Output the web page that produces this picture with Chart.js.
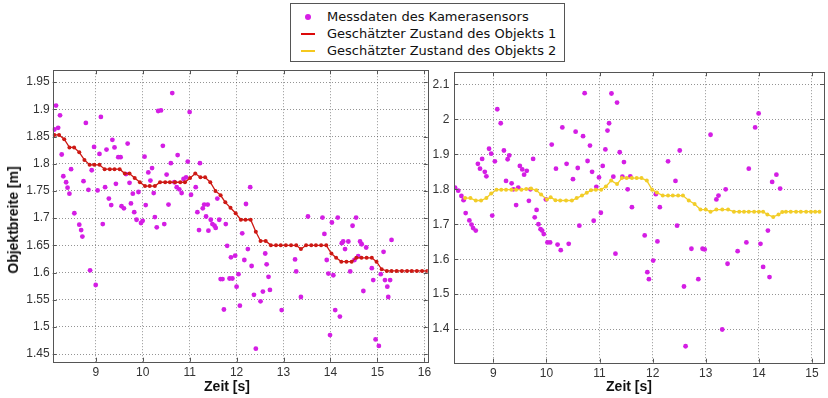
<!DOCTYPE html>
<html>
<head>
<meta charset="utf-8">
<script src="https://cdn.jsdelivr.net/npm/chart.js"></script>
<style>
  body { margin: 0; background: #fff; width: 828px; height: 398px; position: relative; overflow: hidden; font-family: "Liberation Sans", Arial, sans-serif; }
  canvas { position: absolute; top: 60px; }
  #links { left: 0; }
  #rechts { left: 430px; }
  .titel { position: absolute; font-weight: bold; font-size: 14px; color: #111; white-space: nowrap; transform: translate(-50%, -50%); }
  #legende { position: absolute; left: 290px; top: 3px; width: 275px; height: 59px; box-sizing: border-box; border: 1px solid #555; background: #fff; z-index: 2; font-family: "DejaVu Sans", sans-serif; font-size: 13px; color: #111; }
  #legende .txt { position: absolute; left: 36px; line-height: 16px; white-space: nowrap; }
  #legende .pkt { position: absolute; left: 14px; width: 6px; height: 6px; border-radius: 3px; background: rgb(215, 30, 230); }
  #legende .lin { position: absolute; left: 10px; width: 14px; height: 2px; }
</style>
</head>
<body>
<div id="legende">
  <span class="pkt" style="top:10px"></span><span class="txt" style="top:5px">Messdaten des Kamerasensors</span>
  <span class="lin" style="top:29px;background:rgb(220,10,10)"></span><span class="txt" style="top:22px">Geschätzter Zustand des Objekts 1</span>
  <span class="lin" style="top:46px;background:rgb(245,200,30)"></span><span class="txt" style="top:39px">Geschätzter Zustand des Objekts 2</span>
</div>
<canvas id="links" width="440" height="338"></canvas>
<canvas id="rechts" width="398" height="338"></canvas>
<div class="titel" style="left:13px;top:220px;transform:translate(-50%,-50%) rotate(-90deg)">Objektbreite [m]</div>
<div class="titel" style="left:227px;top:386px">Zeit [s]</div>
<div class="titel" style="left:629px;top:386px">Zeit [s]</div>
<script>
// linkes Diagramm: Messdaten
const messZeitLinks = [
  8.12, 8.155, 8.20, 8.24, 8.276, 8.31, 8.37, 8.40, 8.44, 8.475,
  8.545, 8.65, 8.69, 8.716, 8.74, 8.79, 8.845, 8.88, 8.915, 8.965,
  9.0, 9.04, 9.08, 9.11, 9.15, 9.2, 9.23, 9.28, 9.33, 9.355,
  9.40, 9.43, 9.48, 9.53, 9.55, 9.60, 9.645, 9.68, 9.72, 9.75,
  9.79, 9.82, 9.87, 9.91, 9.965, 10.0, 10.04, 10.065, 10.12, 10.165,
  10.2, 10.235, 10.26, 10.30, 10.33, 10.39, 10.43, 10.46, 10.51, 10.55,
  10.60, 10.63, 10.675, 10.725, 10.745, 10.78, 10.83, 10.87, 10.925, 10.96,
  11.0, 11.03, 11.13, 11.165, 11.20, 11.22, 11.28, 11.31, 11.35, 11.385,
  11.40, 11.45, 11.485, 11.53, 11.555, 11.59, 11.63, 11.66, 11.70, 11.73,
  11.77, 11.80, 11.85, 11.88, 11.91, 11.97, 12.0, 12.04, 12.07, 12.12,
  12.165, 12.20, 12.24, 12.29, 12.32, 12.37, 12.41, 12.51, 12.56, 12.61,
  12.64, 12.68, 12.71, 12.96, 13.245, 13.27, 13.37, 13.52, 13.83, 13.87,
  13.92, 13.955, 13.99, 14.03, 14.06, 14.10, 14.155, 14.20, 14.24, 14.27,
  14.31, 14.38, 14.42, 14.47, 14.51, 14.545, 14.59, 14.63, 14.665, 14.70,
  14.76, 14.88, 14.91, 14.96, 15.03, 15.07, 15.13, 15.16, 15.21, 15.23,
  15.27, 15.30
];
const messWertLinks = [
  1.863, 1.907, 1.866, 1.889, 1.817, 1.777, 1.766, 1.756, 1.745, 1.79,
  1.709, 1.688, 1.678, 1.666, 1.768, 1.875, 1.752, 1.604, 1.788, 1.831,
  1.577, 1.751, 1.818, 1.886, 1.689, 1.757, 1.826, 1.736, 1.724, 1.844,
  1.83, 1.763, 1.812, 1.812, 1.722, 1.718, 1.781, 1.837, 1.765, 1.727,
  1.745, 1.711, 1.697, 1.748, 1.691, 1.695, 1.813, 1.724, 1.784, 1.769,
  1.792, 1.746, 1.702, 1.683, 1.897, 1.898, 1.833, 1.689, 1.78, 1.725,
  1.801, 1.93, 1.766, 1.757, 1.816, 1.753, 1.746, 1.772, 1.775, 1.804,
  1.895, 1.743, 1.757, 1.711, 1.678, 1.801, 1.718, 1.725, 1.703, 1.725,
  1.677, 1.697, 1.689, 1.686, 1.682, 1.736, 1.697, 1.588, 1.588, 1.532,
  1.689, 1.649, 1.589, 1.628, 1.589, 1.631, 1.574, 1.597, 1.539, 1.672,
  1.623, 1.726, 1.643, 1.757, 1.612, 1.559, 1.46, 1.547, 1.565, 1.635,
  1.615, 1.592, 1.568, 1.531, 1.624, 1.602, 1.555, 1.703, 1.701, 1.671,
  1.623, 1.598, 1.485, 1.692, 1.595, 1.531, 1.701, 1.519, 1.654, 1.657,
  1.643, 1.657, 1.602, 1.686, 1.623, 1.701, 1.63, 1.657, 1.652, 1.566,
  1.646, 1.608, 1.586, 1.477, 1.465, 1.597, 1.638, 1.586, 1.574, 1.555,
  1.586, 1.66
];
// geschätzter Zustand Objekt 1
const zustandZeit1 = [
  8.12, 8.22, 8.33, 8.44, 8.54, 8.65, 8.76, 8.87, 8.97, 9.08,
  9.19, 9.30, 9.40, 9.51, 9.62, 9.72, 9.83, 9.94, 10.05, 10.15,
  10.26, 10.37, 10.48, 10.58, 10.69, 10.80, 10.90, 11.01, 11.12, 11.23,
  11.33, 11.44, 11.55, 11.66, 11.76, 11.87, 11.98, 12.09, 12.19, 12.30,
  12.41, 12.51, 12.62, 12.73, 12.84, 12.94, 13.05, 13.16, 13.27, 13.37,
  13.48, 13.59, 13.69, 13.80, 13.91, 14.02, 14.12, 14.23, 14.34, 14.45,
  14.55, 14.66, 14.77, 14.88, 14.98, 15.09, 15.20, 15.30, 15.41, 15.52,
  15.63, 15.73, 15.84, 15.95, 16.06
];
const zustandWert1 = [
  1.853, 1.853, 1.845, 1.83, 1.83, 1.821, 1.807, 1.798, 1.798, 1.798,
  1.79, 1.79, 1.79, 1.79, 1.782, 1.782, 1.774, 1.766, 1.759, 1.759,
  1.759, 1.766, 1.766, 1.766, 1.766, 1.766, 1.766, 1.774, 1.782, 1.775,
  1.775, 1.766, 1.75, 1.742, 1.729, 1.719, 1.709, 1.697, 1.697, 1.697,
  1.675, 1.658, 1.658, 1.65, 1.65, 1.65, 1.65, 1.65, 1.65, 1.643,
  1.65, 1.65, 1.65, 1.65, 1.65, 1.635, 1.627, 1.62, 1.62, 1.62,
  1.627, 1.627, 1.627, 1.627, 1.62, 1.606, 1.603, 1.603, 1.603, 1.603,
  1.603, 1.603, 1.603, 1.603, 1.603
];

// rechtes Diagramm: Messdaten
const messZeitRechts = [
  8.28, 8.34, 8.40, 8.44, 8.48, 8.55, 8.59, 8.62, 8.67, 8.71,
  8.75, 8.79, 8.84, 8.87, 8.92, 8.96, 8.98, 9.03, 9.075, 9.14,
  9.20, 9.24, 9.27, 9.30, 9.345, 9.38, 9.43, 9.47, 9.50, 9.545,
  9.58, 9.63, 9.67, 9.70, 9.75, 9.78, 9.815, 9.85, 9.89, 9.92,
  9.95, 9.99, 10.02, 10.07, 10.10, 10.18, 10.21, 10.27, 10.30, 10.38,
  10.42, 10.50, 10.55, 10.59, 10.62, 10.69, 10.72, 10.775, 10.82, 10.86,
  10.89, 10.94, 10.99, 11.025, 11.06, 11.11, 11.15, 11.18, 11.225, 11.26,
  11.30, 11.33, 11.38, 11.43, 11.46, 11.53, 11.58, 11.61, 11.85, 11.90,
  11.93, 12.01, 12.06, 12.09, 12.135, 12.29, 12.43, 12.46, 12.51, 12.59,
  12.62, 12.73, 12.86, 12.94, 12.98, 13.09, 13.20, 13.24, 13.31, 13.375,
  13.41, 13.60, 13.765, 13.81, 13.93, 13.995, 14.03, 14.08, 14.17, 14.20,
  14.25, 14.33, 14.40
];
const messWertRechts = [
  1.805, 1.796, 1.781, 1.769, 1.732, 1.711, 1.699, 1.689, 1.682, 1.873,
  1.859, 1.887, 1.85, 1.837, 1.916, 1.902, 1.725, 1.88, 2.029, 1.989,
  1.911, 1.824, 1.886, 1.897, 1.817, 1.8, 1.755, 1.805, 1.867, 1.857,
  1.842, 1.853, 1.767, 1.8, 1.887, 1.72, 1.741, 1.7, 1.686, 1.682,
  1.672, 1.771, 1.648, 1.648, 1.928, 1.859, 1.642, 1.626, 1.977, 1.873,
  1.644, 1.829, 1.965, 1.861, 1.696, 1.952, 2.075, 1.881, 1.925, 1.85,
  1.71, 1.807, 1.834, 1.733, 1.867, 1.914, 1.968, 1.989, 2.074, 1.836,
  1.616, 2.048, 1.906, 1.836, 1.878, 1.8, 1.837, 1.749, 1.668, 1.563,
  1.543, 1.596, 1.786, 1.651, 1.749, 1.88, 1.824, 1.696, 1.911, 1.522,
  1.351, 1.63, 1.543, 1.63, 1.628, 1.956, 1.771, 1.782, 1.399, 1.8,
  1.587, 1.623, 1.648, 1.859, 1.977, 2.017, 1.644, 1.578, 1.682, 1.549,
  1.821, 1.842, 1.802
];
// geschätzter Zustand Objekt 2
const zustandZeit2 = [
  8.47, 8.57, 8.67, 8.77, 8.87, 8.96, 9.06, 9.15, 9.24, 9.34,
  9.43, 9.53, 9.62, 9.71, 9.81, 9.90, 10.01, 10.08, 10.17, 10.26,
  10.37, 10.48, 10.57, 10.67, 10.76, 10.84, 10.93, 11.03, 11.12, 11.22,
  11.33, 11.42, 11.51, 11.61, 11.70, 11.79, 11.89, 11.99, 12.08, 12.19,
  12.29, 12.38, 12.48, 12.57, 12.68, 12.79, 12.90, 13.00, 13.09, 13.20,
  13.31, 13.42, 13.53, 13.63, 13.72, 13.81, 13.91, 14.00, 14.08, 14.16,
  14.27, 14.37, 14.44, 14.51, 14.60, 14.70, 14.79, 14.89, 14.98, 15.06, 15.14
];
const zustandWert2 = [
  1.775, 1.775, 1.768, 1.768, 1.775, 1.788, 1.799, 1.799, 1.799, 1.799,
  1.799, 1.799, 1.801, 1.802, 1.797, 1.785, 1.771, 1.777, 1.769, 1.768,
  1.768, 1.768, 1.775, 1.782, 1.79, 1.797, 1.799, 1.799, 1.808, 1.825,
  1.815, 1.832, 1.832, 1.832, 1.832, 1.832, 1.825, 1.799, 1.791, 1.782,
  1.782, 1.782, 1.782, 1.782, 1.768, 1.758, 1.742, 1.742, 1.736, 1.742,
  1.742, 1.742, 1.736, 1.736, 1.736, 1.736, 1.736, 1.736, 1.736, 1.728,
  1.721, 1.728, 1.735, 1.736, 1.736, 1.736, 1.736, 1.736, 1.736, 1.736, 1.736
];

// Achsenbeschriftung
const xTicksLinks = [9, 10, 11, 12, 13, 14, 15, 16];
const yTicksLinks = [1.45, 1.5, 1.55, 1.6, 1.65, 1.7, 1.75, 1.8, 1.85, 1.9, 1.95];
const xTicksRechts = [9, 10, 11, 12, 13, 14, 15];
const yTicksRechts = [1.4, 1.5, 1.6, 1.7, 1.8, 1.9, 2, 2.1];

const magenta = 'rgb(212, 30, 228)';

function punkte(xs, ys) {
  return xs.map((x, i) => ({ x: x, y: ys[i] }));
}

// Rahmen um die Achsen mit kurzen Teilstrichen nach innen (wie MATLAB)
const rahmen = {
  id: 'rahmen',
  afterDatasetsDraw(chart) {
    const a = chart.chartArea, c = chart.ctx;
    const sx = chart.scales.x, sy = chart.scales.y;
    c.save();
    c.strokeStyle = '#555';
    c.lineWidth = 1;
    c.beginPath();
    sx.ticks.forEach(t => {
      const px = Math.round(sx.getPixelForValue(t.value)) + 0.5;
      c.moveTo(px, a.bottom); c.lineTo(px, a.bottom - 4);
      c.moveTo(px, a.top); c.lineTo(px, a.top + 4);
    });
    sy.ticks.forEach(t => {
      const py = Math.round(sy.getPixelForValue(t.value)) + 0.5;
      c.moveTo(a.left, py); c.lineTo(a.left + 4, py);
      c.moveTo(a.right, py); c.lineTo(a.right - 4, py);
    });
    c.stroke();
    c.strokeRect(Math.round(a.left) + 0.5, Math.round(a.top) + 0.5,
      Math.round(a.right - a.left), Math.round(a.bottom - a.top));
    c.restore();
  }
};

function diagramm(id, o) {
  const achse = (ticks, min, max, pad) => ({
    type: 'linear', min: min, max: max,
    afterBuildTicks: s => { s.ticks = ticks.map(v => ({ value: v })); },
    grid: { color: 'rgba(60,60,60,0.55)', lineWidth: 1, drawTicks: false },
    border: { display: false, dash: [1, 2] },
    ticks: { padding: pad, color: '#333', font: { family: 'Liberation Sans', size: 12 }, callback: v => String(v) }
  });
  const x = achse(o.xTicks, o.xMin, o.xMax, 4);
  x.afterFit = s => { s.height = o.xHoehe; };
  const y = achse(o.yTicks, o.yMin, o.yMax, o.yPad);
  y.afterFit = s => { s.width = o.yBreite; };
  new Chart(document.getElementById(id), {
    type: 'scatter',
    data: {
      datasets: [
        {
          type: 'line', data: punkte(o.lZeit, o.lWert),
          borderColor: o.lFarbe, borderWidth: 1.3, backgroundColor: o.lFarbe,
          pointRadius: 2, pointBorderWidth: 0, tension: 0
        },
        {
          data: punkte(o.mZeit, o.mWert),
          backgroundColor: magenta, borderWidth: 0, pointRadius: 2.4
        }
      ]
    },
    options: {
      responsive: false, animation: false, devicePixelRatio: 1,
      layout: { padding: { top: o.oben, right: o.rechts, left: 0, bottom: 0 } },
      plugins: { legend: { display: false }, tooltip: { enabled: false } },
      scales: { x: x, y: y }
    },
    plugins: [rahmen]
  });
}

diagramm('links', {
  mZeit: messZeitLinks, mWert: messWertLinks,
  lZeit: zustandZeit1, lWert: zustandWert1, lFarbe: 'rgb(205, 25, 20)',
  xTicks: xTicksLinks, yTicks: yTicksLinks,
  xMin: 8.084, xMax: 16.07, yMin: 1.436, yMax: 1.972,
  oben: 6.7, rechts: 12.3, yBreite: 52.7, xHoehe: 36.3, yPad: 3
});
diagramm('rechts', {
  mZeit: messZeitRechts, mWert: messWertRechts,
  lZeit: zustandZeit2, lWert: zustandWert2, lFarbe: 'rgb(242, 205, 40)',
  xTicks: xTicksRechts, yTicks: yTicksRechts,
  xMin: 8.266, xMax: 15.226, yMin: 1.304, yMax: 2.135,
  oben: 9.3, rechts: 3.7, yBreite: 24.3, xHoehe: 35.3, yPad: 5
});
</script>
</body>
</html>
